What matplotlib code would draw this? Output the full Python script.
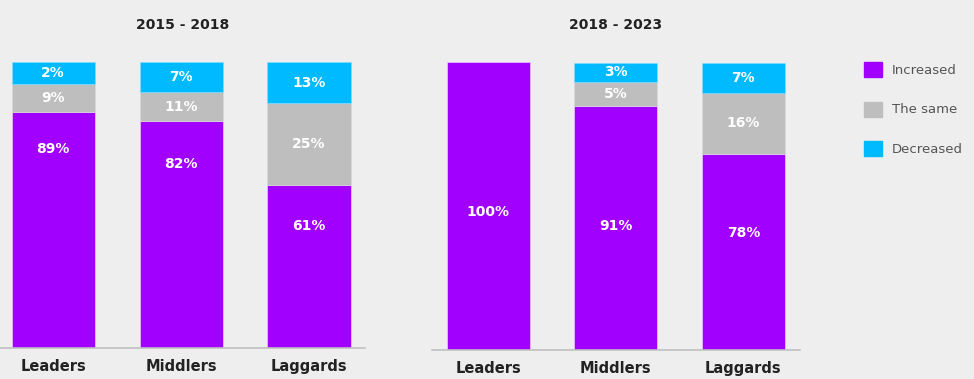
import numpy as np
import matplotlib
matplotlib.use("Agg")
import matplotlib.pyplot as plt
from matplotlib.patches import Patch

# ---- data -----------------------------------------------------------------
CATEGORIES = ["Leaders", "Middlers", "Laggards"]
PANEL_TITLES = ["2015 - 2018", "2018 - 2023"]
SERIES = ["Increased", "The same", "Decreased"]

# printed percentages
INC_1 = [89, 82, 61]
SAME_1 = [9, 11, 25]
DEC_1 = [2, 7, 13]
INC_2 = [100, 91, 78]
SAME_2 = [0, 5, 16]
DEC_2 = [0, 3, 7]

# segment heights as drawn in the original (share of bar, %)
INC_H_1 = [82.7, 79.4, 56.9]
SAME_H_1 = [9.7, 10.1, 28.9]
DEC_H_1 = [7.6, 10.5, 14.2]
INC_H_2 = [100.0, 84.7, 68.1]
SAME_H_2 = [0.0, 8.4, 21.3]
DEC_H_2 = [0.0, 6.7, 10.4]

# ---- style ----------------------------------------------------------------
BG = "#eeeeee"
C_INC = "#a100ff"
C_SAME = "#bebebe"
C_DEC = "#00baff"
C_AXIS = "#c0c0c0"
C_TEXT = "#222222"
FS_VAL = 10
FS_CAT = 10.5
FS_TITLE = 10
FS_LEG = 9.5
BAR_W = 0.65

# where the purple labels sit (data units)
INC_LABEL_Y = [[69.6, 64.3, 42.6], [47.8, 43.1, 40.5]]

W, H = 974, 379
fig = plt.figure(figsize=(W / 100, H / 100), dpi=100, facecolor=BG)


def px_axes(x0, x1, ytop, ybot):
    return fig.add_axes([x0 / W, 1 - ybot / H, (x1 - x0) / W, (ybot - ytop) / H])


panels = [
    (px_axes(0, 365, 62.3, 347.5), (-0.416, 2.438),
     INC_1, SAME_1, DEC_1, INC_H_1, SAME_H_1, DEC_H_1),
    (px_axes(432, 800, 62.3, 349.5), (-0.439, 2.444),
     INC_2, SAME_2, DEC_2, INC_H_2, SAME_H_2, DEC_H_2),
]

x = np.arange(len(CATEGORIES))
for i, (ax, xlim, inc, same, dec, inc_h, same_h, dec_h) in enumerate(panels):
    ax.set_facecolor(BG)
    inc_h = np.array(inc_h)
    same_h = np.array(same_h)
    dec_h = np.array(dec_h)

    def lw(h):
        return np.where(h > 0, 0.5, 0.0)

    ax.bar(x, inc_h, width=BAR_W, color=C_INC, edgecolor="#e6ccff", linewidth=lw(inc_h))
    ax.bar(x, same_h, bottom=inc_h, width=BAR_W, color=C_SAME,
           edgecolor="#d8d8d8", linewidth=lw(same_h))
    ax.bar(x, dec_h, bottom=inc_h + same_h, width=BAR_W, color=C_DEC,
           edgecolor="#7fdcff", linewidth=lw(dec_h))

    for j in range(len(x)):
        tk = dict(ha="center", va="center", color="white",
                  fontsize=FS_VAL, fontweight="bold")
        ax.text(x[j], INC_LABEL_Y[i][j], f"{inc[j]}%", **tk)
        if same[j]:
            ax.text(x[j], inc_h[j] + same_h[j] / 2, f"{same[j]}%", **tk)
        if dec[j]:
            ax.text(x[j], inc_h[j] + same_h[j] + dec_h[j] / 2, f"{dec[j]}%", **tk)

    ax.set_xlim(*xlim)
    ax.set_ylim(0, 100)
    for s in ["left", "right", "top"]:
        ax.spines[s].set_visible(False)
    ax.spines["bottom"].set_color(C_AXIS)
    ax.spines["bottom"].set_linewidth(1.2)
    ax.set_yticks([])
    ax.set_xticks(x)
    ax.set_xticklabels(CATEGORIES, fontsize=FS_CAT, fontweight="bold", color=C_TEXT)
    ax.tick_params(axis="x", length=0, pad=8.5)
    ax.set_title(PANEL_TITLES[i], fontsize=FS_TITLE, fontweight="bold",
                 color=C_TEXT, pad=24)

handles = [Patch(facecolor=c, edgecolor=c) for c in (C_INC, C_SAME, C_DEC)]
fig.legend(handles, SERIES, loc="upper left",
           bbox_to_anchor=(864 / W, 1 - 62.3 / H),
           frameon=False, fontsize=FS_LEG, labelcolor="#555555",
           handlelength=1.36, handleheight=1.36, handletextpad=0.75,
           labelspacing=1.85, borderpad=0, borderaxespad=0)

fig.savefig("out.png", dpi=100, facecolor=BG)
